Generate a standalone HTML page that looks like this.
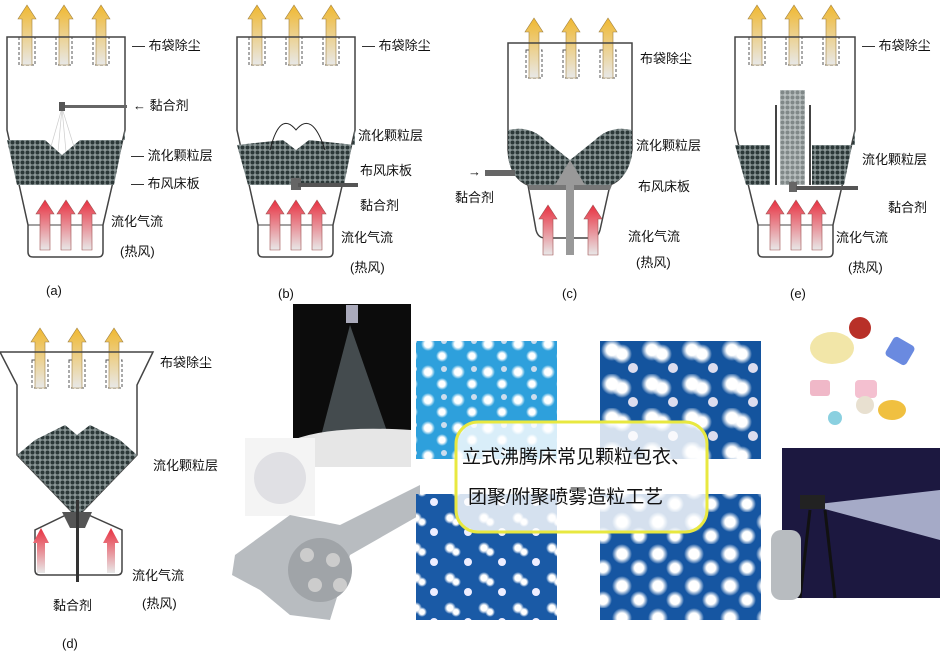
<!DOCTYPE html>
<html><head><meta charset="utf-8"><style>
body{margin:0;background:#fff}
svg{display:block}
text{font-family:"Liberation Sans","Noto Sans CJK SC",sans-serif;fill:#111}
</style></head><body>
<svg width="950" height="654" viewBox="0 0 950 654" xmlns="http://www.w3.org/2000/svg">
<defs>
<pattern id="dots" width="5" height="5" patternUnits="userSpaceOnUse">
<rect width="5" height="5" fill="#8a9696"/><circle cx="2.5" cy="2.5" r="2" fill="#2c3838"/></pattern>
<linearGradient id="yg" x1="0" y1="0" x2="0" y2="1"><stop offset="0" stop-color="#f0b830"/><stop offset="1" stop-color="#e8e8e8"/></linearGradient>
<linearGradient id="rg" x1="0" y1="0" x2="0" y2="1"><stop offset="0" stop-color="#e83040"/><stop offset="1" stop-color="#e8e8e8"/></linearGradient>
<g id="ya"><path d="M-5,60 V14 H-9 L0,0 L9,14 H5 V60Z" fill="url(#yg)" stroke="#a08040" stroke-width=".6"/></g>
<g id="ra"><path d="M-5,50 V14 H-9 L0,0 L9,14 H5 V50Z" fill="url(#rg)" stroke="#a05050" stroke-width=".6"/></g>
<g id="bag"><rect x="-8" y="0" width="16" height="28" fill="none" stroke="#555" stroke-dasharray="3,2"/></g>
<g id="tops"><use href="#bag" x="0" y="37"/><use href="#bag" x="37" y="37"/><use href="#bag" x="74" y="37"/>
<use href="#ya" x="0" y="5"/><use href="#ya" x="37" y="5"/><use href="#ya" x="74" y="5"/></g>
<g id="reds"><use href="#ra" x="0" y="0"/><use href="#ra" x="21" y="0"/><use href="#ra" x="42" y="0"/></g>
<radialGradient id="ball"><stop offset=".5" stop-color="#fff"/><stop offset="1" stop-color="#fff" stop-opacity="0"/></radialGradient>
<pattern id="balls1" width="30" height="28" patternUnits="userSpaceOnUse"><rect width="30" height="28" fill="#2ea0dc"/><circle cx="8" cy="8" r="7" fill="url(#ball)"/><circle cx="22" cy="20" r="6" fill="url(#ball)"/><circle cx="24" cy="5" r="3" fill="#cde"/></pattern>
<pattern id="balls2" width="40" height="34" patternUnits="userSpaceOnUse"><rect width="40" height="34" fill="#14549e"/><circle cx="12" cy="10" r="11" fill="url(#ball)"/><circle cx="22" cy="14" r="10" fill="url(#ball)"/><circle cx="33" cy="28" r="5" fill="#dde"/></pattern>
<pattern id="balls3" width="34" height="30" patternUnits="userSpaceOnUse"><rect width="34" height="30" fill="#1a5aa6"/><circle cx="8" cy="8" r="6" fill="url(#ball)"/><circle cx="14" cy="12" r="5" fill="url(#ball)"/><circle cx="26" cy="22" r="4" fill="#eef"/></pattern>
<pattern id="balls4" width="36" height="32" patternUnits="userSpaceOnUse"><rect width="36" height="32" fill="#1656a2"/><circle cx="10" cy="10" r="10" fill="url(#ball)"/><circle cx="27" cy="24" r="9" fill="url(#ball)"/></pattern>
</defs>

<!-- (a) -->
<use href="#tops" x="27" y="0"/>
<path d="M7,37 H125 V130 L103,225 V252 Q103,257 98,257 H33 Q28,257 28,252 V225 L7,130Z" fill="none" stroke="#444" stroke-width="1.5"/>
<line x1="28" y1="225" x2="103" y2="225" stroke="#444"/>
<path d="M7,140 H45 L62,155 L80,140 H125 V130 L114,185 H17 L7,140Z" fill="url(#dots)"/>
<path d="M62,108 L50,150 M62,108 L58,152 M62,108 L66,152 M62,108 L75,150" stroke="#ccc" stroke-width=".7"/>
<rect x="59" y="102" width="6" height="9" fill="#555"/><rect x="65" y="105" width="62" height="3" fill="#666"/>
<use href="#reds" x="45" y="200"/>
<text x="132" y="50" font-size="13">— 布袋除尘</text>
<text x="133" y="110" font-size="13">←  黏合剂</text>
<text x="131" y="160" font-size="13">— 流化颗粒层</text>
<text x="131" y="188" font-size="13">— 布风床板</text>
<text x="111" y="226" font-size="13">流化气流</text>
<text x="120" y="256" font-size="13">(热风)</text>
<text x="46" y="295" font-size="13">(a)</text>

<!-- (b) -->
<use href="#tops" x="257" y="0"/>
<path d="M237,37 H355 V130 L333,225 V252 Q333,257 328,257 H263 Q258,257 258,252 V225 L237,130Z" fill="none" stroke="#444" stroke-width="1.5"/>
<line x1="258" y1="225" x2="333" y2="225" stroke="#444"/>
<path d="M237,145 L283,140 L296,150 L309,140 L355,145 V130 L344,185 H248Z" fill="url(#dots)"/>
<path d="M270,150 Q280,110 296,130 Q312,110 325,150" fill="none" stroke="#222" stroke-width="1"/>
<rect x="291" y="178" width="10" height="12" fill="#666"/><rect x="298" y="183" width="60" height="4" fill="#555"/>
<use href="#reds" x="275" y="200"/>
<text x="362" y="50" font-size="13">— 布袋除尘</text>
<text x="358" y="140" font-size="13">流化颗粒层</text>
<text x="360" y="175" font-size="13">布风床板</text>
<text x="360" y="210" font-size="13">黏合剂</text>
<text x="341" y="242" font-size="13">流化气流</text>
<text x="350" y="272" font-size="13">(热风)</text>
<text x="278" y="298" font-size="13">(b)</text>

<!-- (c) -->
<use href="#tops" x="534" y="13"/>
<path d="M508,43 H632 V150 Q628,178 610,185 L600,230 Q598,238 590,238 H545 Q538,238 536,230 L528,185 Q510,178 508,150Z" fill="none" stroke="#444" stroke-width="1.5"/>
<path d="M508,130 Q530,125 545,140 L570,160 L595,140 Q610,125 632,130 V155 Q628,178 610,185 H528 Q510,178 508,155Z" fill="url(#dots)"/>
<path d="M528,185 H612 L610,190 H530Z" fill="#777"/>
<path d="M555,185 L570,160 L585,185Z" fill="#999"/>
<rect x="566" y="185" width="8" height="70" fill="#999"/>
<rect x="485" y="170" width="30" height="6" fill="#666"/>
<use href="#ra" x="548" y="205"/><use href="#ra" x="593" y="205"/>
<text x="468" y="176" font-size="13">→</text>
<text x="640" y="63" font-size="13">布袋除尘</text>
<text x="636" y="150" font-size="13">流化颗粒层</text>
<text x="638" y="191" font-size="13">布风床板</text>
<text x="455" y="202" font-size="13">黏合剂</text>
<text x="628" y="241" font-size="13">流化气流</text>
<text x="636" y="267" font-size="13">(热风)</text>
<text x="562" y="298" font-size="13">(c)</text>

<!-- (e) -->
<use href="#tops" x="757" y="0"/>
<path d="M735,37 H855 V130 L833,225 V252 Q833,257 828,257 H763 Q758,257 758,252 V225 L735,130Z" fill="none" stroke="#444" stroke-width="1.5"/>
<line x1="758" y1="225" x2="833" y2="225" stroke="#444"/>
<path d="M735,145 H770 V185 H746Z M812,145 H855 V130 L844,185 H812Z" fill="url(#dots)"/>
<path d="M780,90 H805 V185 H780Z" fill="url(#dots)" opacity=".6"/>
<rect x="775" y="105" width="2" height="80" fill="#444"/><rect x="809" y="105" width="2" height="80" fill="#444"/>
<rect x="789" y="182" width="8" height="10" fill="#666"/><rect x="796" y="186" width="62" height="4" fill="#555"/>
<use href="#reds" x="775" y="200"/>
<text x="862" y="50" font-size="13">— 布袋除尘</text>
<text x="862" y="164" font-size="13">流化颗粒层</text>
<text x="888" y="212" font-size="13">黏合剂</text>
<text x="836" y="242" font-size="13">流化气流</text>
<text x="848" y="272" font-size="13">(热风)</text>
<text x="790" y="298" font-size="13">(e)</text>

<!-- (d) -->
<use href="#tops" x="40" y="323"/>
<path d="M0,352 H153 L137,385 V455 L82,512 L122,530 V570 Q122,575 117,575 H40 Q35,575 35,570 V530 L72,512 L17,455 V385Z" fill="none" stroke="#444" stroke-width="1.5"/>
<path d="M17,455 L35,440 L65,425 L77,435 L90,425 L120,440 L137,455 L82,512 H72Z" fill="url(#dots)"/>
<path d="M62,512 H92 L85,528 H70Z" fill="#555"/>
<rect x="76" y="500" width="3" height="82" fill="#333"/>
<path d="M37,573 V543 H33 L41,528 L49,543 H45 V573Z M107,573 V543 H103 L111,528 L119,543 H115 V573Z" fill="url(#rg)"/>
<text x="160" y="367" font-size="13">布袋除尘</text>
<text x="153" y="470" font-size="13">流化颗粒层</text>
<text x="132" y="580" font-size="13">流化气流</text>
<text x="53" y="610" font-size="13">黏合剂</text>
<text x="142" y="608" font-size="13">(热风)</text>
<text x="62" y="648" font-size="13">(d)</text>

<!-- photos -->
<rect x="293" y="304" width="118" height="163" fill="#0c0c0c"/>
<path d="M350,325 L320,440 L390,440 Z" fill="#8a98a0" opacity=".45"/>
<rect x="346" y="305" width="12" height="18" fill="#aab"/>
<path d="M293,440 Q330,425 411,430 V467 H293Z" fill="#e6e6e6"/>
<rect x="245" y="438" width="70" height="78" fill="#f4f4f4"/>
<circle cx="280" cy="478" r="26" fill="#e0e0e4"/>
<path d="M235,555 L290,515 L340,525 L420,485 L420,515 L350,555 L330,620 L290,615 L260,590 L232,575Z" fill="#b8bcc0"/>
<circle cx="320" cy="570" r="32" fill="#a0a4a8"/>
<circle cx="307" cy="555" r="7" fill="#ccc"/><circle cx="333" cy="560" r="7" fill="#ccc"/><circle cx="315" cy="585" r="7" fill="#ccc"/><circle cx="340" cy="585" r="7" fill="#ccc"/>

<rect x="416" y="341" width="141" height="118" fill="url(#balls1)"/>
<rect x="600" y="341" width="161" height="118" fill="url(#balls2)"/>
<rect x="416" y="494" width="141" height="126" fill="url(#balls3)"/>
<rect x="600" y="494" width="161" height="126" fill="url(#balls4)"/>

<rect x="456" y="422" width="251" height="110" rx="22" fill="#fff" fill-opacity=".82" stroke="#e8e840" stroke-width="3"/>
<text x="462" y="463" font-size="19">立式沸腾床常见颗粒包衣、</text>
<text x="468" y="503" font-size="19">团聚/附聚喷雾造粒工艺</text>

<!-- pills -->
<ellipse cx="832" cy="348" rx="22" ry="16" fill="#f2e6a8"/>
<circle cx="860" cy="328" r="11" fill="#b83028"/>
<rect x="888" y="340" width="24" height="22" rx="4" fill="#6a8ae0" transform="rotate(30 900 351)"/>
<rect x="810" y="380" width="20" height="16" rx="3" fill="#f0b8c8"/>
<rect x="855" y="380" width="22" height="18" rx="4" fill="#f4c0d0"/>
<ellipse cx="892" cy="410" rx="14" ry="10" fill="#f0c040"/>
<circle cx="835" cy="418" r="7" fill="#8ad0e0"/>
<ellipse cx="865" cy="405" rx="9" ry="9" fill="#e8e0d0"/>

<rect x="782" y="448" width="158" height="150" fill="#1c1840"/>
<path d="M810,505 L940,490 L940,540Z" fill="#c8d0e8" opacity=".8"/>
<rect x="800" y="495" width="25" height="14" fill="#222"/>
<path d="M810,510 L800,598 M825,510 L835,598" stroke="#111" stroke-width="3"/>
<rect x="771" y="530" width="30" height="70" rx="10" fill="#b8bcc0"/>
</svg>
</body></html>
